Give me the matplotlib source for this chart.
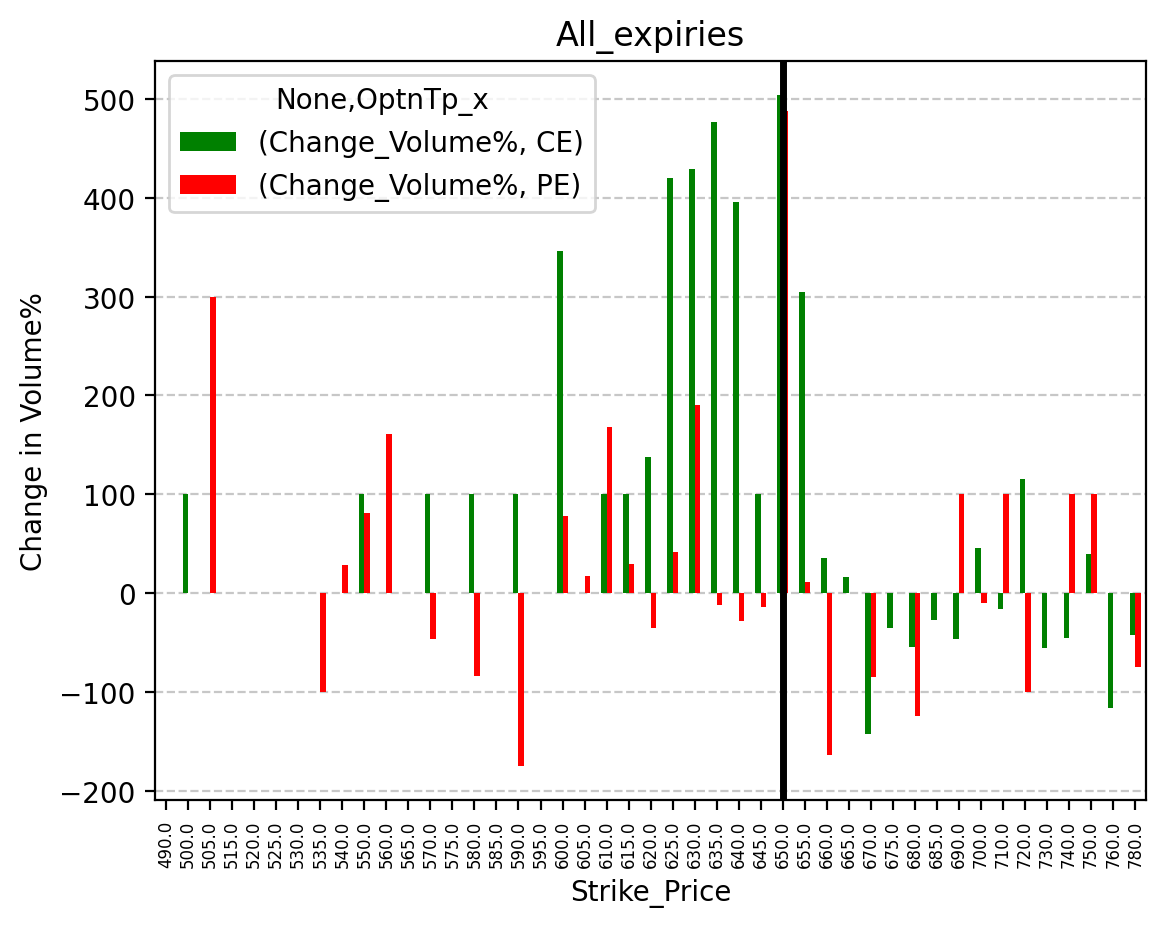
import numpy as np
import matplotlib
matplotlib.use("Agg")
import matplotlib.pyplot as plt

# strike prices and % change in volume (CE / PE), nan = no bar
strikes = [490, 500, 505, 515, 520, 525, 530, 535, 540, 550,
           560, 565, 570, 575, 580, 585, 590, 595, 600, 605,
           610, 615, 620, 625, 630, 635, 640, 645, 650, 655,
           660, 665, 670, 675, 680, 685, 690, 700, 710, 720,
           730, 740, 750, 760, 780]
nan = np.nan
ce_change = [nan, 100, nan, nan, nan, nan, nan, nan, nan, 100,
             nan, nan, 100, nan, 100, nan, 100, nan, 346, nan,
             100, 100, 138, 420, 429, 476, 396, 100, 504, 305,
             36, 16, -142, -35, -54, -27, -46, 46, -16, 115,
             -55, -45, 40, -116, -42]
pe_change = [nan, nan, 300, nan, nan, nan, nan, -100, 29, 81,
             161, nan, -46, nan, -84, nan, -175, nan, 78, 17,
             168, 30, -35, 42, 190, -12, -28, -14, 488, 11,
             -164, nan, -85, nan, -124, nan, 100, -10, 100, -100,
             nan, 100, 100, nan, -75]
spot_strike = 650

fig = plt.figure(figsize=(5.83, 4.64), dpi=200)
ax = fig.add_axes([0.133, 0.137, 0.85, 0.796])

x = np.arange(len(strikes))
w = 0.25
ax.bar(x - w / 2, ce_change, width=w, color="green", label="(Change_Volume%, CE)")
ax.bar(x + w / 2, pe_change, width=w, color="red", label="(Change_Volume%, PE)")
ax.set_xlim(-0.5, len(strikes) - 0.5)

ax.axvline(strikes.index(spot_strike), color="black", linewidth=2.5)

ax.set_xticks(x)
ax.set_xticklabels([f"{s:.1f}" for s in strikes], rotation=90, fontsize=6)
ax.grid(axis="y", linestyle="--", alpha=0.7)
ax.set_axisbelow(True)

ax.set_title("All_expiries")
ax.set_xlabel("Strike_Price")
ax.set_ylabel("Change in Volume%")
ax.legend(title="None,OptnTp_x", loc="upper left")

fig.savefig("out.png", dpi=200)
